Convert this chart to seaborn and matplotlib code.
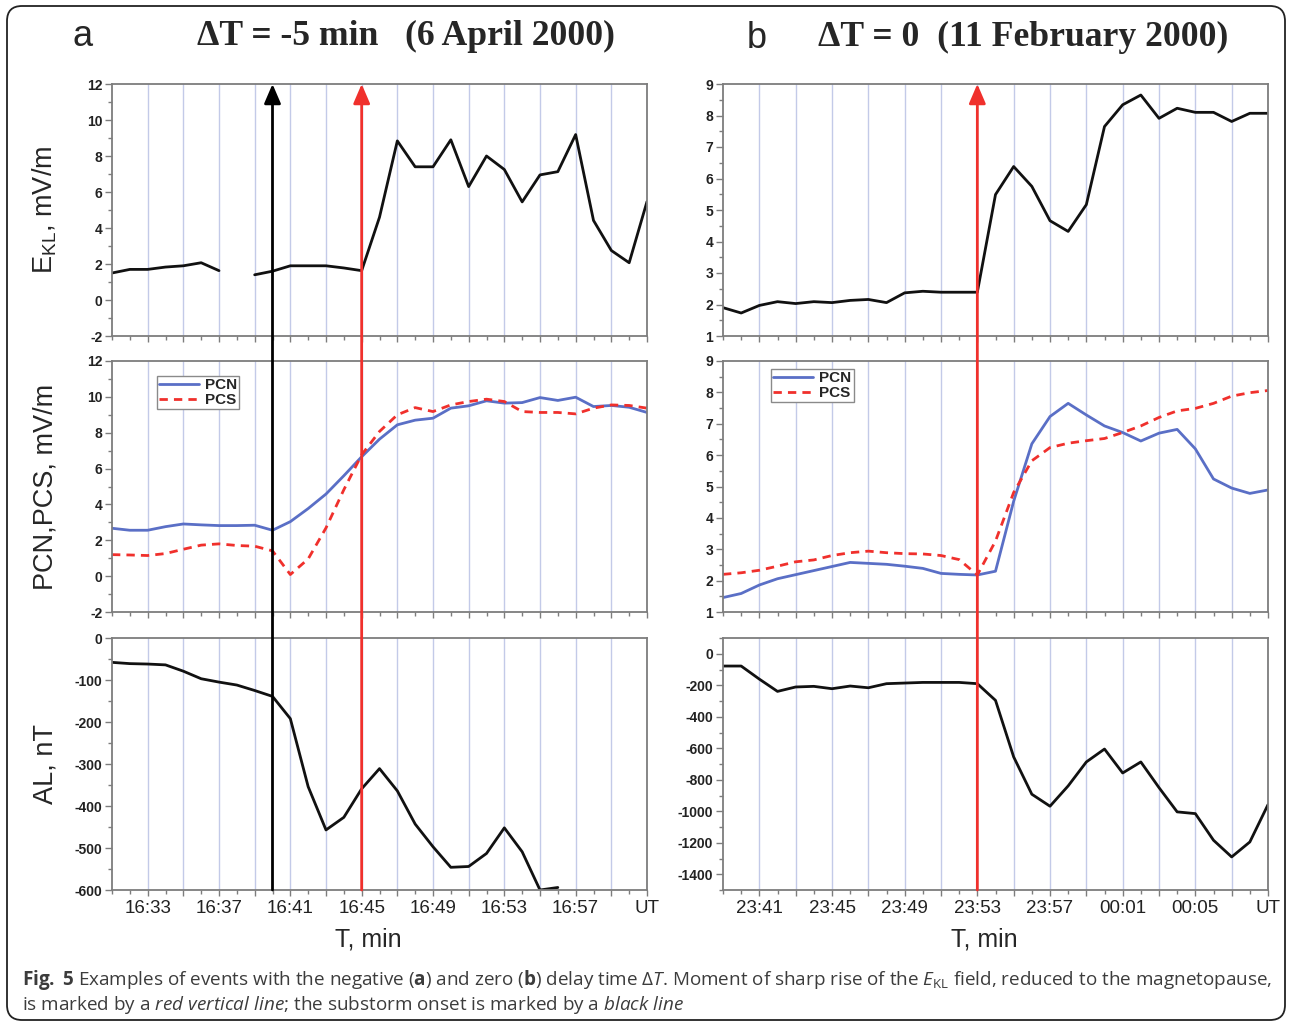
import numpy as np
import pandas as pd
import matplotlib
matplotlib.use("Agg")
import matplotlib.pyplot as plt
import seaborn as sns
from matplotlib.patches import ConnectionPatch, FancyBboxPatch
from matplotlib.lines import Line2D
from matplotlib.ticker import MultipleLocator

nan = np.nan

# ---------------- event a: 6 April 2000, 1-min samples from 16:31 UT ----------------
start_a = 16 * 60 + 31
ekl_a = [1.50, 1.70, 1.70, 1.83, 1.90, 2.07, 1.63, nan, 1.40, 1.60, 1.90, 1.90, 1.90, 1.78,
         1.63, 4.60, 8.84, 7.40, 7.40, 8.90, 6.30, 8.00, 7.25, 5.45, 6.95, 7.13, 9.19, 4.42,
         2.75, 2.07, 5.47]
pcn_a = [2.67, 2.56, 2.56, 2.76, 2.91, 2.86, 2.82, 2.82, 2.84, 2.56, 3.04, 3.77, 4.58, 5.60,
         6.66, 7.64, 8.44, 8.70, 8.81, 9.37, 9.50, 9.78, 9.65, 9.68, 9.96, 9.80, 9.98, 9.46,
         9.52, 9.42, 9.13]
pcs_a = [1.20, 1.18, 1.15, 1.26, 1.50, 1.73, 1.80, 1.71, 1.67, 1.41, 0.09, 0.96, 2.69, 4.82,
         6.77, 8.07, 9.00, 9.40, 9.18, 9.55, 9.74, 9.87, 9.74, 9.18, 9.13, 9.13, 9.05, 9.37,
         9.55, 9.52, 9.37]
al_a = [-58, -61, -62, -64, -79, -97, -105, -112, -125, -139, -192, -354, -457, -427,
        -359, -311, -364, -443, -497, -546, -544, -513, -452, -509, -600, -594,
        nan, nan, nan, nan, nan]
onset_a = 16 * 60 + 40     # substorm onset (black)
rise_a = 16 * 60 + 45      # sharp rise of E_KL (red)

# ---------------- event b: 11 February 2000, 1-min samples from 23:39 UT ----------------
start_b = 23 * 60 + 39
ekl_b = [1.90, 1.73, 1.97, 2.09, 2.03, 2.09, 2.06, 2.13, 2.16, 2.06, 2.37, 2.42, 2.39, 2.39,
         2.39, 5.49, 6.38, 5.75, 4.66, 4.32, 5.17, 7.65, 8.34, 8.65, 7.91, 8.23, 8.10, 8.10,
         7.81, 8.07, 8.07]
pcn_b = [1.46, 1.59, 1.86, 2.06, 2.19, 2.32, 2.45, 2.58, 2.55, 2.52, 2.46, 2.39, 2.23, 2.20,
         2.18, 2.30, 4.53, 6.36, 7.23, 7.65, 7.28, 6.93, 6.72, 6.45, 6.70, 6.82, 6.20, 5.24,
         4.95, 4.78, 4.89]
pcs_b = [2.20, 2.25, 2.33, 2.46, 2.60, 2.66, 2.80, 2.89, 2.94, 2.89, 2.86, 2.85, 2.80, 2.67,
         2.18, 3.26, 4.81, 5.82, 6.24, 6.38, 6.46, 6.53, 6.72, 6.93, 7.20, 7.41, 7.49, 7.65,
         7.88, 7.99, 8.06]
al_b = [-78, -78, -161, -239, -211, -207, -222, -205, -216, -190, -186, -182, -182, -182,
        -190, -296, -655, -892, -968, -839, -687, -605, -757, -687, -850, -1004, -1015, -1184,
        -1290, -1195, -958]
rise_b = 23 * 60 + 53

# ---------------- style ----------------
sns.set_style("white")
plt.rcParams["font.family"] = ["Liberation Sans", "DejaVu Sans"]
plt.rcParams["axes.unicode_minus"] = False
plt.rcParams["mathtext.fontset"] = "custom"
plt.rcParams["mathtext.rm"] = "Open Sans"
plt.rcParams["mathtext.it"] = "Open Sans:italic"
plt.rcParams["mathtext.bf"] = "Open Sans:bold"

BLUE = "#5a6fc6"
RED = "#f0302c"
GRID = "#c3cae8"
SPINE = "#7d7d7d"

W, H = 1291, 1026
fig = plt.figure(figsize=(W / 100, H / 100), dpi=100)


def rect(x0, x1, y0, y1):
    return [x0 / W, 1 - y1 / H, (x1 - x0) / W, (y1 - y0) / H]


rows = [(84, 336), (361, 612), (638, 890)]
cols = [(112, 647), (723, 1268)]
axes = [[fig.add_axes(rect(c[0], c[1], r[0], r[1])) for c in cols] for r in rows]


def draw_series(ax, start, values, color, ls="-"):
    df = pd.DataFrame({"t": start + np.arange(len(values)), "v": values})
    df["seg"] = df["v"].isna().cumsum()
    df = df.dropna()
    sns.lineplot(data=df, x="t", y="v", units="seg", estimator=None, color=color,
                 lw=2.0, linestyle=ls, ax=ax, legend=False)


def time_axis(ax, start, labels_on):
    end = start + 30
    ax.set_xlim(start, end)
    majors = list(range(start + 2, end + 1, 2))
    labels = []
    for m in majors:
        if m == end:
            labels.append("UT")
        elif (m - start - 2) % 4 == 0:
            labels.append(f"{(m // 60) % 24:02d}:{m % 60:02d}")
        else:
            labels.append("")
    ax.set_xticks(majors, labels if labels_on else [""] * len(majors))
    ax.xaxis.set_minor_locator(MultipleLocator(1))
    ax.grid(axis="x", which="major", color=GRID, lw=1.0)
    ax.grid(axis="y", visible=False)
    ax.tick_params(axis="x", which="both", direction="out", color=SPINE, width=1,
                   labelsize=13.5, pad=3, bottom=True)
    ax.tick_params(axis="x", which="major", length=4)
    ax.tick_params(axis="x", which="minor", length=3)
    ax.set_xlabel("")


def value_axis(ax, lo, hi, major, minor):
    ax.set_ylim(lo, hi)
    ax.yaxis.set_major_locator(MultipleLocator(major))
    ax.yaxis.set_minor_locator(MultipleLocator(minor))
    ax.tick_params(axis="y", which="both", direction="out", color=SPINE, width=1,
                   labelsize=10, pad=2, left=True)
    ax.tick_params(axis="y", which="major", length=5)
    ax.tick_params(axis="y", which="minor", length=3)
    ax.set_ylabel("")
    for sp in ax.spines.values():
        sp.set_color(SPINE)
        sp.set_linewidth(1.3)


panels = [
    (start_a, ekl_a, pcn_a, pcs_a, al_a, (-2, 12, 2, 1), (-2, 12, 2, 1), (-600, 0, 100, 50)),
    (start_b, ekl_b, pcn_b, pcs_b, al_b, (1, 9, 1, 0.5), (1, 9, 1, 0.5), (-1500, 100, 200, 100)),
]

for j, (start, ekl, pcn, pcs, al, ylim_e, ylim_p, ylim_al) in enumerate(panels):
    ax_e, ax_p, ax_al = axes[0][j], axes[1][j], axes[2][j]
    draw_series(ax_e, start, ekl, "#111111")
    draw_series(ax_p, start, pcn, BLUE)
    draw_series(ax_p, start, pcs, RED, ls=(0, (3, 2.2)))
    draw_series(ax_al, start, al, "#111111")
    for ax, lim, lab in ((ax_e, ylim_e, False), (ax_p, ylim_p, False), (ax_al, ylim_al, True)):
        time_axis(ax, start, lab)
        value_axis(ax, *lim)
    handles = [Line2D([], [], color=BLUE, lw=2), Line2D([], [], color=RED, lw=2, ls=(0, (3, 2.2)))]
    anchor = (0.084, 0.94) if j == 0 else (0.088, 0.968)
    leg = ax_p.legend(handles, ["PCN", "PCS"], loc="upper left", bbox_to_anchor=anchor,
                      borderaxespad=0, frameon=True, fancybox=False, framealpha=1,
                      edgecolor="#8a8a8a", prop={"weight": "bold", "size": 11},
                      handlelength=2.6, borderpad=0.15, labelspacing=0.05, handletextpad=0.4)
    leg.get_frame().set_linewidth(1.0)
    ax_al.set_xlabel("T, min", fontsize=18)
    ax_al.xaxis.label.set_va("center")
    ax_al.xaxis.set_label_coords(0.48, -0.198)

# y-axis titles on the left column
ylabels = ["E$_{\\mathregular{KL}}$, mV/m", "PCN,PCS, mV/m", "AL, nT"]
for i, text in enumerate(ylabels):
    ax = axes[i][0]
    ax.set_ylabel(text, fontsize=19.5)
    ax.yaxis.label.set_va("center")
    ax.yaxis.set_label_coords(-0.125, 0.5)

# bold tick labels on the value axes
for row in axes:
    for ax in row:
        plt.setp(ax.get_yticklabels(), fontweight="bold", color="#222222")
        plt.setp(ax.get_xticklabels(), color="#222222")


# event markers running through all three panels with an arrowhead on top
def marker(ax_top, ax_bot, t, color):
    con = ConnectionPatch(xyA=(t, ax_bot.get_ylim()[0]), coordsA=ax_bot.transData,
                          xyB=(t, ax_top.get_ylim()[1]), coordsB=ax_top.transData,
                          arrowstyle="-|>,head_length=0.42,head_width=0.18",
                          mutation_scale=28, color=color, lw=2.0, shrinkA=0, shrinkB=0)
    fig.add_artist(con)


marker(axes[0][0], axes[2][0], onset_a, "#000000")
marker(axes[0][0], axes[2][0], rise_a, RED)
marker(axes[0][1], axes[2][1], rise_b, RED)

# panel letters and titles
fig.text(83 / W, 1 - 36 / H, "a", fontsize=26, ha="center", va="center")
fig.text(197 / W, 1 - 36 / H, "ΔT = -5 min   (6 April 2000)", fontsize=25.7,
         family="Liberation Serif", weight="bold", ha="left", va="center")
fig.text(757 / W, 1 - 39 / H, "b", fontsize=26, ha="center", va="center")
fig.text(818 / W, 1 - 37 / H, "ΔT = 0  (11 February 2000)", fontsize=25.7,
         family="Liberation Serif", weight="bold", ha="left", va="center")

# caption
cap1 = (r"$\mathbf{Fig.}$ $\mathbf{5}$ Examples of events with the negative ($\mathbf{a}$) and zero "
        r"($\mathbf{b}$) delay time $\mathit{\Delta T}$. Moment of sharp rise of the "
        r"$\mathit{E}_{\mathrm{KL}}$ field, reduced to the magnetopause,")
cap2 = (r"is marked by a $\mathit{red\ vertical\ line}$; the substorm onset is marked by a "
        r"$\mathit{black\ line}$")
fig.text(22 / W, 1 - 980 / H, cap1, fontsize=13.6, color="#3c3c3c", family="Open Sans",
         ha="left", va="center")
fig.text(22 / W, 1 - 1005 / H, cap2, fontsize=13.6, color="#3c3c3c", family="Open Sans",
         ha="left", va="center")

# rounded outer frame
frame = FancyBboxPatch((0.07, 0.06), 12.78, 10.14, boxstyle="round,pad=0,rounding_size=0.15",
                       transform=fig.dpi_scale_trans, fill=False, edgecolor="#222222", lw=1.3)
fig.add_artist(frame)

fig.savefig("out.png", dpi=100)
